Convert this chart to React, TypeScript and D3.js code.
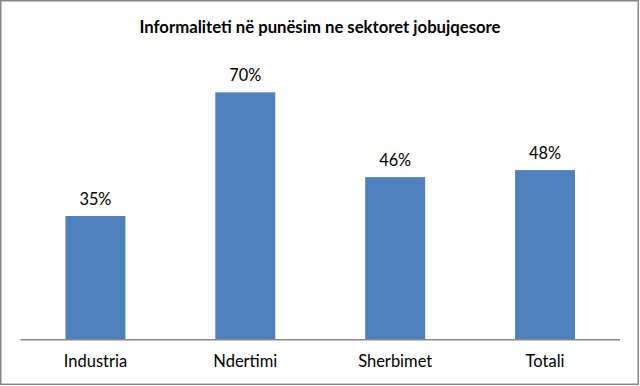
import React from "react";
import * as d3 from "d3";

const categories = ["Industria", "Ndertimi", "Sherbimet", "Totali"];
const values = [35, 70, 46, 48];
const title = "Informaliteti në punësim ne sektoret jobujqesore";

export default function App() {
  const W = 640, H = 386;
  const x = d3.scaleBand<string>().domain(categories).range([20.5, 620]).paddingInner(0.6).paddingOuter(0.3);
  const y = d3.scaleLinear().domain([0, 80]).range([339.7, 57]);
  const font = "Lato, 'Open Sans', sans-serif";
  return (
    <svg width={W} height={H} style={{ position: "absolute", left: 0, top: 0 }}>
      <rect x={0} y={0} width={W} height={H} fill="#fff" />
      <rect x={0.75} y={0.75} width={637.5} height={383.5} fill="none" stroke="#888" strokeWidth={1.5} />
      <text x={320} y={33} textAnchor="middle" fontFamily={font} fontWeight="bold" fontSize={16.7} fill="#000">{title}</text>
      {categories.map((c, i) => (
        <g key={c}>
          <rect x={x(c)} y={y(values[i])} width={x.bandwidth()} height={y(0) - y(values[i])} fill="#4F81BD" />
          <text x={(x(c) ?? 0) + x.bandwidth() / 2} y={y(values[i]) - 11.5} textAnchor="middle" fontFamily={font} fontSize={16.3} fill="#000">{values[i]}%</text>
          <text x={(x(c) ?? 0) + x.bandwidth() / 2} y={367} textAnchor="middle" fontFamily={font} fontSize={16.5} fill="#000">{c}</text>
        </g>
      ))}
      <line x1={20.5} x2={620} y1={y(0)} y2={y(0)} stroke="#888" strokeWidth={1.5} />
    </svg>
  );
}
